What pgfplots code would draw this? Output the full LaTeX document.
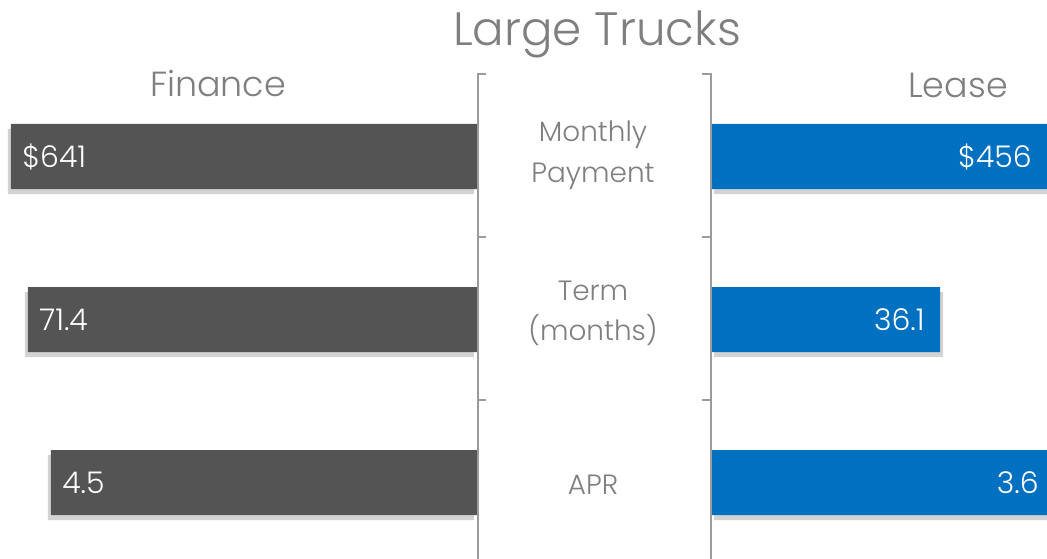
\documentclass[border=0pt]{standalone}
\usepackage{fontspec}
\setmainfont{Poppins Light}
\usepackage{pgfplots}
\usepackage{pgfplotstable}
\pgfplotsset{compat=1.18}
\usetikzlibrary{shadows}

\definecolor{finbar}{RGB}{84,84,84}
\definecolor{leasebar}{RGB}{0,112,192}
\definecolor{txtgray}{RGB}{127,127,127}
\definecolor{linegray}{RGB}{155,155,155}

% pos = row centre (px from top), len = drawn bar length (px), label = value shown
\pgfplotstableread{
pos len label
156.5 466 {\$641}
319.5 449 71.4
482.5 426 4.5
}\finance
\pgfplotstableread{
pos len label
156.5 336 {\$456}
319.5 229 36.1
482.5 343 3.6
}\lease

\pgfplotsset{
  barside/.style={
    x=0.5bp, y=0.5bp,
    ymin=0, ymax=559, y dir=reverse,
    hide axis, xbar, bar width=32.5bp,
    point meta=explicit symbolic,
    nodes near coords,
    every node near coord/.append style={font=\fontsize{15}{18}\selectfont, text=white, inner sep=0pt},
  },
}

\begin{document}
\begin{tikzpicture}[x=0.5bp,y=-0.5bp]
\useasboundingbox (0,0) rectangle (1047,559);

\begin{axis}[barside, at={(0bp,0bp)}, anchor=north west,
    xmin=0, xmax=477, x dir=reverse,
    every node near coord/.append style={anchor=west, xshift=5.5bp}]
  \addplot[fill=finbar, draw=none,
    drop shadow={shadow xshift=-1.5bp, shadow yshift=-2.5bp, opacity=0.35}]
    table[x=len, y=pos, meta=label] {\finance};
\end{axis}

\begin{axis}[barside, at={(355.5bp,0bp)}, anchor=north west,
    xmin=0, xmax=346,
    every node near coord/.append style={anchor=east, xshift=-7.5bp}]
  \addplot[fill=leasebar, draw=none,
    drop shadow={shadow xshift=1.5bp, shadow yshift=-2.5bp, opacity=0.35}]
    table[x=len, y=pos, meta=label] {\lease};
\end{axis}

% bracket lines
\draw[linegray, line width=1bp] (486,74) -- (477.5,74) -- (477.5,559)
  (477.5,237) -- (486,237) (477.5,400) -- (486,400);
\draw[linegray, line width=1bp] (702,74) -- (711,74) -- (711,559)
  (711,237) -- (702,237) (711,400) -- (702,400);

% titles
\node[anchor=base, text=txtgray, font=\fontsize{23.5}{28}\selectfont] at (597,46) {Large Trucks};
\node[anchor=base, text=txtgray, font=\fontsize{17.5}{21}\selectfont] at (218,97) {Finance};
\node[anchor=base, text=txtgray, font=\fontsize{17.5}{21}\selectfont] at (958,98) {Lease};

% category labels
\begin{scope}[every node/.style={anchor=base, text=txtgray, font=\fontsize{14}{17}\selectfont}]
\node at (593,142) {Monthly};
\node at (593,183) {Payment};
\node at (593,301) {Term};
\node at (593,341) {(months)};
\node at (593,495) {APR};
\end{scope}
\end{tikzpicture}
\end{document}
